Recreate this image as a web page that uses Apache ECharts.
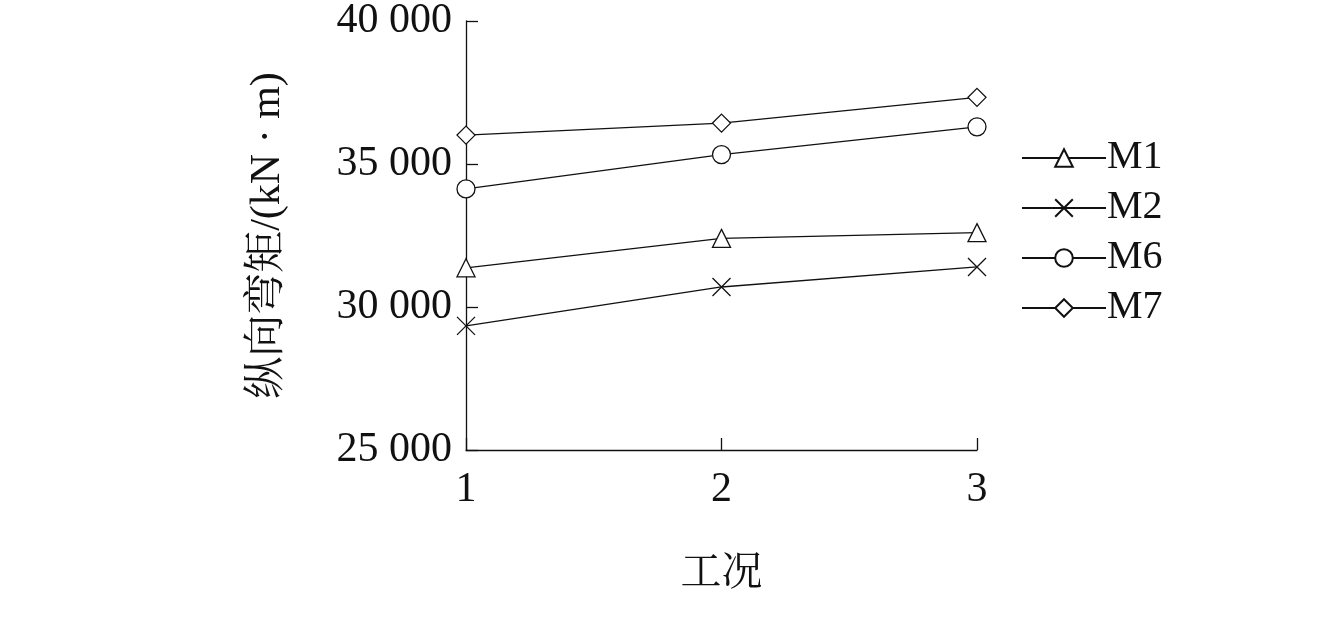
<!DOCTYPE html>
<html><head><meta charset="utf-8">
<script src="https://cdn.jsdelivr.net/npm/echarts@6/dist/echarts.min.js"></script>
<style>html,body{margin:0;padding:0;background:#fff}#c{width:1342px;height:642px}</style>
</head><body><div id="c"></div>
<script>
const categories = ['1', '2', '3'];
const seriesNames = ['M1', 'M2', 'M6', 'M7'];
const M1 = [31370, 32400, 32600];
const M2 = [29340, 30700, 31400];
const M6 = [34130, 35330, 36300];
const M7 = [36010, 36430, 37330];
const yTicks = [25000, 30000, 35000, 40000];

const crossPath = 'path://M0,0L10,10M10,0L0,10';
const symbols = ['triangle', crossPath, 'circle', 'diamond'];
const values = [M1, M2, M6, M7];
const font = '"Liberation Serif", "Times New Roman", "Noto Serif CJK SC", "Noto Sans CJK SC", serif';

const chart = echarts.init(document.getElementById('c'));
chart.setOption({
  backgroundColor: '#fff',
  animation: false,
  grid: { left: 466, right: 365, top: 20, bottom: 192, containLabel: false },
  legend: {
    orient: 'vertical', left: 1016, top: 133,
    itemWidth: 84, itemHeight: 22, itemGap: 10,
    textStyle: { fontFamily: font, fontSize: 40, color: '#111', padding: [0,0,0,-4] },
    data: seriesNames
  },
  xAxis: {
    type: 'category', data: categories, boundaryGap: false,
    name: '工况', nameLocation: 'middle', nameGap: 104,
    nameTextStyle: { fontFamily: font, fontSize: 41, color: '#111' },
    axisLine: { lineStyle: { color: '#111', width: 1.3 } },
    axisTick: { inside: true, length: 12, lineStyle: { color: '#111', width: 1.3 }, alignWithLabel: true },
    axisLabel: { fontFamily: font, fontSize: 42, color: '#111', margin: 19 },
    splitLine: { show: false }
  },
  yAxis: {
    type: 'value', min: 25000, max: 40000, interval: 5000,
    name: '纵向弯矩/(kN · m)', nameLocation: 'middle', nameGap: 177, nameRotate: 90,
    nameTextStyle: { fontFamily: font, fontSize: 42, color: '#111' },
    axisLine: { show: true, lineStyle: { color: '#111', width: 1.3 } },
    axisTick: { show: true, inside: true, length: 12, lineStyle: { color: '#111', width: 1.3 } },
    axisLabel: { fontFamily: font, fontSize: 42, color: '#111', margin: 14,
      formatter: v => yTicks.includes(v) ? String(v).replace(/(\d{2})(\d{3})$/, '$1 $2') : '' },
    splitLine: { show: false }
  },
  series: seriesNames.map((n, i) => ({
    name: n, type: 'line', data: values[i],
    symbol: symbols[i], symbolSize: 18,
    showAllSymbol: true,
    lineStyle: { color: '#111', width: 1.3 },
    itemStyle: { color: '#fff', borderColor: '#111', borderWidth: 1.3 },
    z: 3
  }))
});
</script></body></html>
